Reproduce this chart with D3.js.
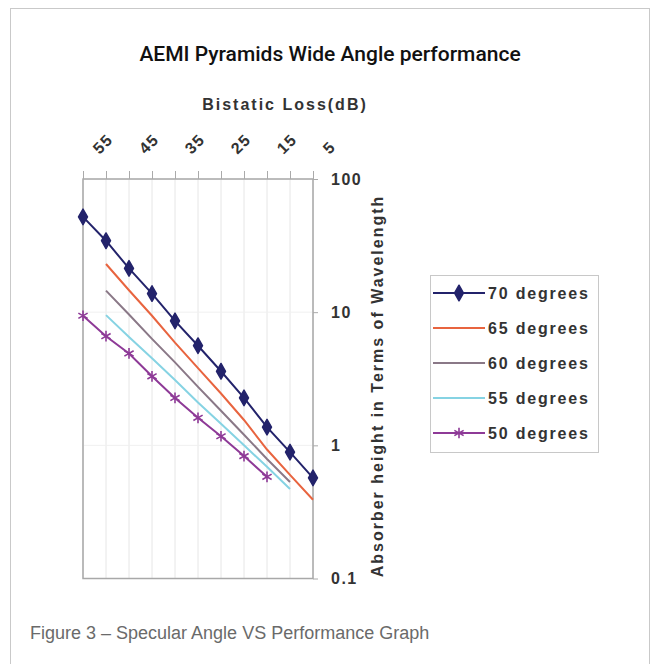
<!DOCTYPE html>
<html><head><meta charset="utf-8">
<script src="https://cdn.jsdelivr.net/npm/d3@7"></script>
<style>body{margin:0;background:#fff}</style>
</head><body>
<svg id="c" width="659" height="664"></svg>
<script>
const categories = [55,50,45,40,35,30,25,20,15,10,5];
const tickLabels = [55,45,35,25,15,5];
const yTicks = [100,10,1,0.1];
const deg70 = [52,34.4,21.3,13.8,8.6,5.6,3.6,2.27,1.37,0.89,0.57];
const deg65 = [null,23,14.6,9.4,5.9,3.8,2.45,1.55,0.93,0.6,0.39];
const deg60 = [null,14.5,9.6,6.3,4.2,2.75,1.82,1.2,0.79,0.53,null];
const deg55 = [null,9.5,6.5,4.5,3.1,2.1,1.45,1.0,0.69,0.47,null];
const deg50 = [9.4,6.6,4.9,3.3,2.27,1.61,1.17,0.83,0.58,null,null];
const seriesNames = ["70 degrees","65 degrees","60 degrees","55 degrees","50 degrees"];
const seriesColors = ["#23236b","#e8643f","#8a7887","#86d3e3","#8e3a97"];
const seriesMarkers = ["diamond",null,null,null,"star"];
const titleText = "AEMI Pyramids Wide Angle performance";
const xTitle = "Bistatic Loss(dB)";
const yTitle = "Absorber height in Terms of Wavelength";
const caption = "Figure 3 \u2013 Specular Angle VS Performance Graph";

(function(){
const svg = d3.select("#c");
const series = [deg70,deg65,deg60,deg55,deg50].map((v,i)=>({name:seriesNames[i],color:seriesColors[i],marker:seriesMarkers[i],values:v}));

svg.append("rect").attr("x",10.5).attr("y",8.5).attr("width",639).attr("height",680)
  .attr("fill","none").attr("stroke","#c9c9c9");

svg.append("text").attr("x",330).attr("y",61).attr("text-anchor","middle")
  .style("font-family","Roboto, 'Liberation Sans', Arial").style("font-weight",500).style("font-size","21px")
  .attr("fill","#111").text(titleText);

const L=83,R=313,T=179,B=578.5;
const x = d3.scalePoint().domain(categories).range([L,R]);
const y = d3.scaleLog().domain([0.1,100]).range([B,T]);

const g = svg.append("g");
g.selectAll("line.vg").data(categories).join("line").attr("class","vg")
  .attr("x1",d=>x(d)).attr("x2",d=>x(d)).attr("y1",T).attr("y2",B)
  .attr("stroke","#e6e6e6").attr("stroke-width",1);
g.selectAll("line.hg").data(yTicks).join("line").attr("class","hg")
  .attr("x1",L).attr("x2",R).attr("y1",d=>y(d)).attr("y2",d=>y(d))
  .attr("stroke","#f0f0f0");
g.append("rect").attr("x",L).attr("y",T).attr("width",R-L).attr("height",B-T)
  .attr("fill","none").attr("stroke","#a8a8a8").attr("stroke-width",1.5);

const axFont = "'Liberation Sans', Arial, sans-serif";
const topAx = svg.append("g").attr("transform",`translate(0,${T})`)
  .call(d3.axisTop(x).tickValues(categories).tickSize(8).tickFormat(d=>tickLabels.includes(d)?d:""));
topAx.select(".domain").remove();
topAx.selectAll(".tick line").attr("stroke","#aaa");
topAx.selectAll(".tick text").attr("fill","#333").style("font-family",axFont).style("font-weight","bold").style("font-size","16px")
  .style("letter-spacing","1.5px")
  .attr("text-anchor","start").attr("dy",null).attr("y",null)
  .attr("transform","translate(16,-24) rotate(-45)");

const rightAx = svg.append("g").attr("transform",`translate(${R},0)`)
  .call(d3.axisRight(y).tickValues(yTicks).tickSize(5).tickPadding(13).tickFormat(d=>String(d)));
rightAx.select(".domain").remove();
rightAx.selectAll(".tick line").attr("stroke","#aaa");
rightAx.selectAll(".tick text").attr("fill","#333").style("font-family",axFont).style("font-weight","bold").style("font-size","16px")
  .style("letter-spacing","1.5px");

svg.append("text").attr("x",285).attr("y",110).attr("text-anchor","middle")
  .style("font-family",axFont).style("font-weight","bold").style("font-size","16px").style("letter-spacing","2px")
  .attr("fill","#333").text(xTitle);
svg.append("text").attr("transform","translate(383,386) rotate(-90)").attr("text-anchor","middle")
  .style("font-family",axFont).style("font-weight","bold").style("font-size","16px").style("letter-spacing","2px")
  .attr("fill","#333").text(yTitle);

const line = d3.line().defined(d=>d.v!=null).x(d=>x(d.c)).y(d=>y(d.v));
const diamond = d3.symbol().type(d3.symbolDiamond).size(70);
const star = d3.symbol().type(d3.symbolAsterisk).size(80);

series.forEach(s=>{
  const pts = s.values.map((v,i)=>({c:categories[i],v}));
  g.append("path").datum(pts).attr("d",line).attr("fill","none").attr("stroke",s.color).attr("stroke-width",2);
  if(s.marker){
    g.selectAll(null).data(pts.filter(p=>p.v!=null)).join("path")
      .attr("transform",p=>`translate(${x(p.c)},${y(p.v)})`)
      .attr("d",s.marker==="diamond"?diamond():star())
      .attr("fill",s.color).attr("stroke",s.color).attr("stroke-width",s.marker==="star"?1.6:1.5)
      .attr("stroke-linejoin","round");
  }
});

const lg = svg.append("g");
lg.append("rect").attr("x",430.5).attr("y",275.5).attr("width",168).attr("height",177)
  .attr("fill","#fff").attr("stroke","#c8c8c8");
const ly = d3.scalePoint().domain(seriesNames).range([293,433]);
series.forEach(s=>{
  const yy = ly(s.name);
  lg.append("line").attr("x1",433).attr("x2",485).attr("y1",yy).attr("y2",yy).attr("stroke",s.color).attr("stroke-width",2);
  if(s.marker){
    lg.append("path").attr("transform",`translate(459,${yy})`).attr("d",s.marker==="diamond"?diamond():star())
      .attr("fill",s.color).attr("stroke",s.color).attr("stroke-width",s.marker==="star"?1.6:1.5).attr("stroke-linejoin","round");
  }
  lg.append("text").attr("x",488).attr("y",yy).attr("dy","0.35em").style("font-family",axFont)
    .style("font-weight","bold").style("font-size","16px").style("letter-spacing","1.8px").attr("fill","#333").text(s.name);
});

svg.append("text").attr("x",30).attr("y",639)
  .style("font-family","'Liberation Sans', Arial, sans-serif").style("font-weight",300).style("font-size","18px")
  .attr("fill","#6a6a6a").text(caption);
})();
</script>
</body></html>
